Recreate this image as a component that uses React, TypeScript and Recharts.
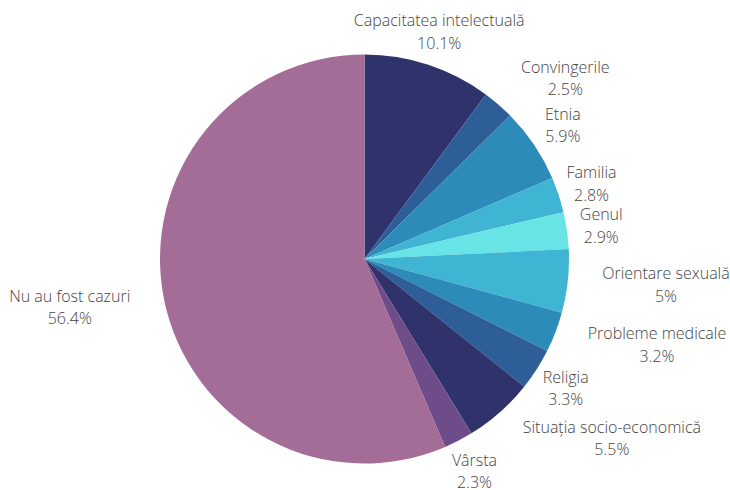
import { PieChart, Pie, Cell } from 'recharts'

const CATEGORIES = [
  'Capacitatea intelectuală',
  'Convingerile',
  'Etnia',
  'Familia',
  'Genul',
  'Orientare sexuală',
  'Probleme medicale',
  'Religia',
  'Situația socio-economică',
  'Vârsta',
  'Nu au fost cazuri',
]

const SHARES = [10.1, 2.5, 5.9, 2.8, 2.9, 5, 3.2, 3.3, 5.5, 2.3, 56.4]

const COLORS = [
  '#30336b',
  '#2e5e98',
  '#2d8bba',
  '#3fb5d3',
  '#69e4e6',
  '#3fb5d3',
  '#2d8bba',
  '#2e5e98',
  '#30336b',
  '#6e4c89',
  '#a36d97',
]

const chartData = CATEGORIES.map((name, i) => ({ name, value: SHARES[i] }))

const FONT = '"Open Sans", sans-serif'
const FONT_SIZE = 16
const FONT_WEIGHT = 300
const LINE_GAP = 22.5
const LABEL_OFFSET = 34.6
const BOX_H = 36

let measureCtx: CanvasRenderingContext2D | null = null
function textWidth(s: string) {
  if (!measureCtx) measureCtx = document.createElement('canvas').getContext('2d')
  if (!measureCtx) return s.length * FONT_SIZE * 0.5
  measureCtx.font = `${FONT_WEIGHT} ${FONT_SIZE}px ${FONT}`
  return measureCtx.measureText(s).width
}

const clamp = (v: number, lo: number, hi: number) => Math.max(lo, Math.min(hi, v))

function renderLabel(props: any) {
  const { cx, cy, midAngle, outerRadius, name, value, index } = props
  const rad = (midAngle * Math.PI) / 180
  const ux = Math.cos(rad)
  const uy = -Math.sin(rad)
  const ax = cx + (outerRadius + LABEL_OFFSET) * ux
  const ay = cy + (outerRadius + LABEL_OFFSET) * uy
  const pct = `${value}%`
  const w = Math.max(textWidth(name), textWidth(pct))

  // push wide labels sideways when a centred box would cover the pie
  const nx = clamp(cx, ax - w / 2, ax + w / 2)
  const ny = clamp(cy, ay - BOX_H / 2, ay + BOX_H / 2)
  let x = ax
  if (Math.hypot(nx - cx, ny - cy) < outerRadius) x = ax + Math.sign(ux) * (w / 2)

  const base = FONT_SIZE * 0.36
  return (
    <text
      key={`label-${index}`}
      textAnchor="middle"
      fontFamily={FONT}
      fontSize={FONT_SIZE}
      fontWeight={FONT_WEIGHT}
      fill="#444"
    >
      <tspan x={x} y={ay - LINE_GAP / 2 + base}>
        {name}
      </tspan>
      <tspan x={x} y={ay + LINE_GAP / 2 + base}>
        {pct}
      </tspan>
    </text>
  )
}

export default function App() {
  return (
    <div style={{ width: 730, height: 490, background: '#fff' }}>
      <style>{'body { margin: 0; }'}</style>
      <PieChart width={730} height={490} margin={{ top: 0, right: 0, bottom: 0, left: 0 }}>
        <Pie
          data={chartData}
          dataKey="value"
          nameKey="name"
          cx={364.5}
          cy={259}
          innerRadius={0}
          outerRadius={204.5}
          startAngle={90}
          endAngle={-270}
          stroke="none"
          label={renderLabel}
          labelLine={false}
          isAnimationActive={false}
        >
          {chartData.map((_, i) => (
            <Cell key={`cell-${i}`} fill={COLORS[i % COLORS.length]} />
          ))}
        </Pie>
      </PieChart>
    </div>
  )
}
